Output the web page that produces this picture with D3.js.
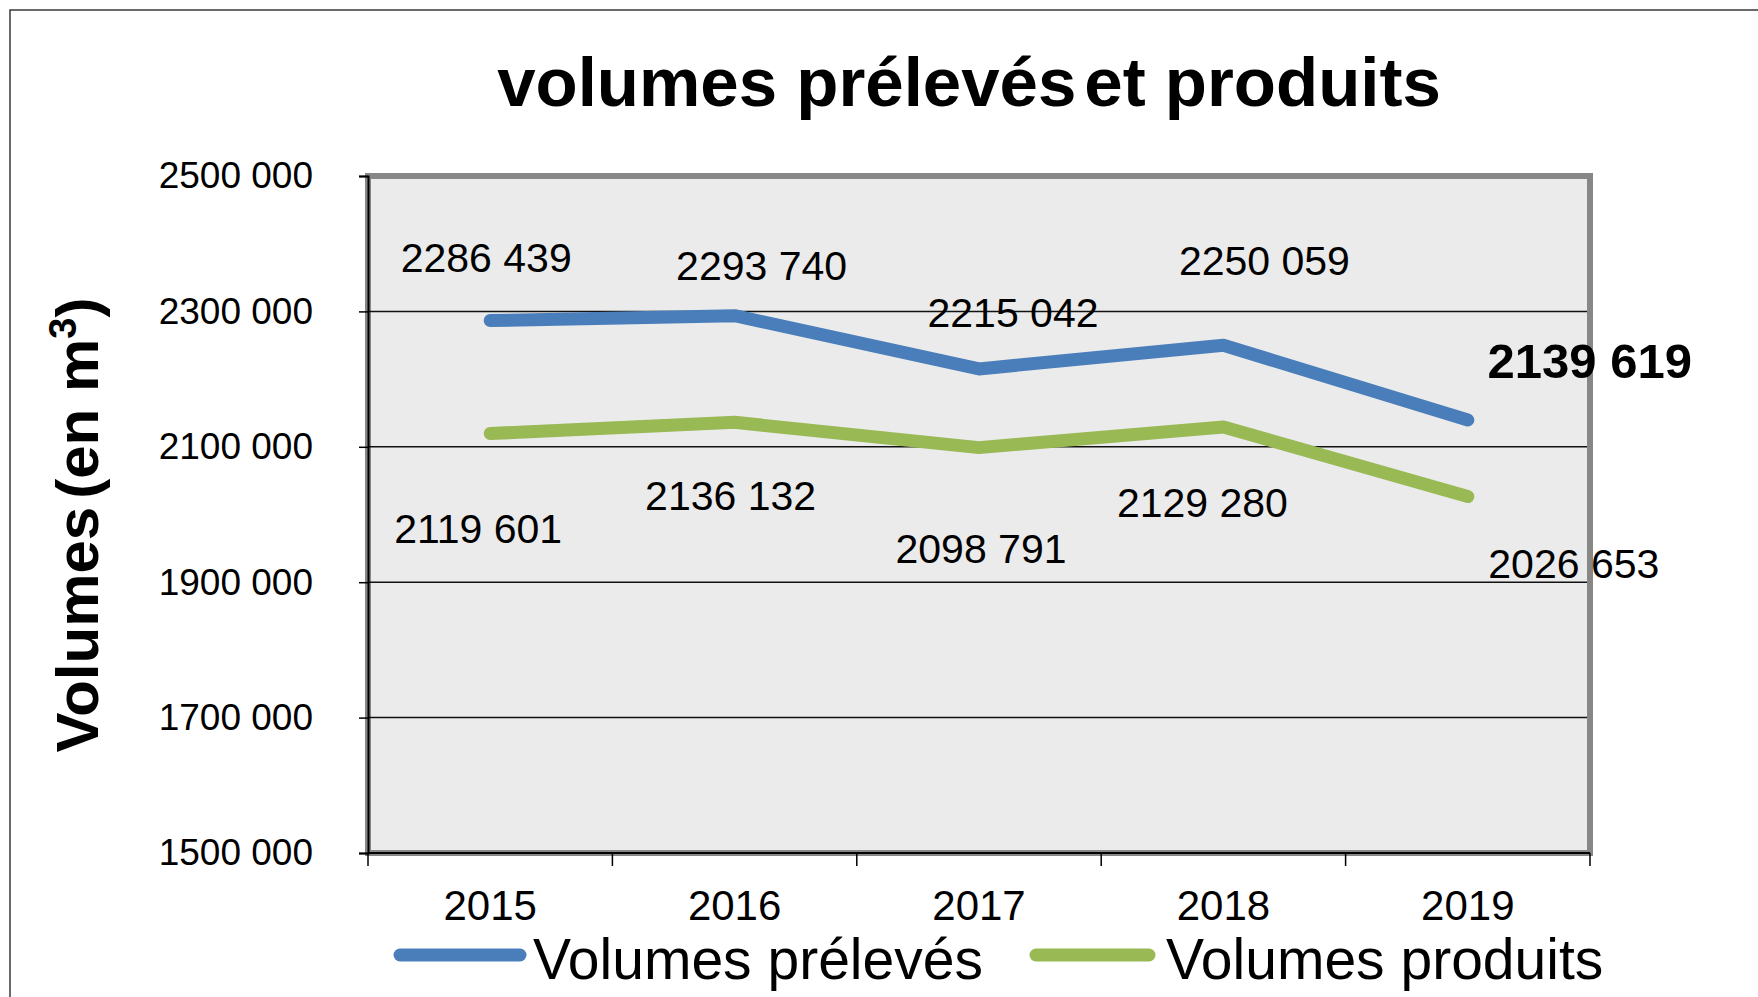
<!DOCTYPE html>
<html>
<head>
<meta charset="utf-8">
<script src="https://cdn.jsdelivr.net/npm/d3@7"></script>
<style>
  body { margin: 0; background: #fff; }
  text { font-family: "Liberation Sans", Arial, sans-serif; }
</style>
</head>
<body>
<div id="chart"></div>
<script>
// Data
const years = ["2015", "2016", "2017", "2018", "2019"];
const preleves = [2286439, 2293740, 2215042, 2250059, 2139619];
const produits = [2119601, 2136132, 2098791, 2129280, 2026653];
const yTicks = [1500000, 1700000, 1900000, 2100000, 2300000, 2500000];
const seriesNames = ["Volumes prélevés", "Volumes produits"];

// label offsets from the point (layout only)
const labelOffsetsPreleves = [[-4, -49], [27, -36], [34, -42], [41, -70], [122, -42]];
const labelOffsetsProduits = [[-12, 109], [-4, 88], [2, 115], [-21, 90], [106, 82]];

const width = 1758;
const height = 997;
const blue = "#4a7ebb";
const green = "#98b954";

const svg = d3.select("#chart")
  .append("svg")
  .attr("width", width)
  .attr("height", height);

// outer frame
svg.append("rect")
  .attr("x", 10).attr("y", 10)
  .attr("width", width + 20).attr("height", height + 20)
  .attr("fill", "none")
  .attr("stroke", "#3a3a3a")
  .attr("stroke-width", 1.5);

const plotLeft = 368, plotRight = 1590, plotTop = 176, plotBottom = 853;

// scales
const x = d3.scaleBand().domain(years).range([plotLeft, plotRight]).padding(0);
const y = d3.scaleLinear().domain([1500000, 2500000]).range([plotBottom, plotTop]);
const cx = d => x(d) + x.bandwidth() / 2;

const fmt = v => `${Math.floor(v / 1000)} ${String(v % 1000).padStart(3, "0")}`;

// plot area
svg.append("rect")
  .attr("x", plotLeft).attr("y", plotTop)
  .attr("width", plotRight - plotLeft).attr("height", plotBottom - plotTop)
  .attr("fill", "#ebebeb")
  .attr("stroke", "#878787")
  .attr("stroke-width", 6);

// gridlines
svg.append("g")
  .selectAll("line")
  .data(yTicks.slice(1, -1))
  .join("line")
  .attr("x1", plotLeft).attr("x2", plotRight - 3)
  .attr("y1", d => y(d)).attr("y2", d => y(d))
  .attr("stroke", "#111")
  .attr("stroke-width", 1.5);

// y axis
const yAxis = svg.append("g")
  .attr("transform", `translate(${plotLeft}, 0)`)
  .call(d3.axisLeft(y).tickValues(yTicks).tickFormat(fmt).tickSize(9).tickPadding(46));
yAxis.select(".domain").attr("stroke", "#000").attr("stroke-width", 2);
yAxis.selectAll(".tick line").attr("stroke", "#000").attr("stroke-width", 1.5);
yAxis.selectAll("text")
  .attr("font-size", 37)
  .attr("fill", "#000")
  .attr("font-family", "Liberation Sans, Arial, sans-serif");

// x axis
const xAxis = svg.append("g")
  .attr("transform", `translate(0, ${plotBottom})`)
  .call(d3.axisBottom(x).tickSize(0).tickPadding(37));
xAxis.select(".domain").remove();
xAxis.selectAll("text")
  .attr("font-size", 42)
  .attr("fill", "#000")
  .attr("font-family", "Liberation Sans, Arial, sans-serif");
svg.append("line")
  .attr("x1", plotLeft).attr("x2", plotRight)
  .attr("y1", plotBottom).attr("y2", plotBottom)
  .attr("stroke", "#000").attr("stroke-width", 2);
const edges = years.map(d => x(d)).concat([x(years[years.length - 1]) + x.bandwidth()]);
svg.append("g")
  .selectAll("line")
  .data(edges)
  .join("line")
  .attr("x1", d => d).attr("x2", d => d)
  .attr("y1", plotBottom).attr("y2", plotBottom + 13)
  .attr("stroke", "#000").attr("stroke-width", 1.5);

// lines
const line = d3.line()
  .x((d, i) => cx(years[i]))
  .y(d => y(d));

[[produits, green], [preleves, blue]].forEach(([vals, color]) => {
  svg.append("path")
    .datum(vals)
    .attr("d", line)
    .attr("fill", "none")
    .attr("stroke", color)
    .attr("stroke-width", 13)
    .attr("stroke-linecap", "round")
    .attr("stroke-linejoin", "round");
});

// data labels
svg.append("g")
  .selectAll("text")
  .data(preleves)
  .join("text")
  .attr("x", (d, i) => cx(years[i]) + labelOffsetsPreleves[i][0])
  .attr("y", (d, i) => y(d) + labelOffsetsPreleves[i][1])
  .attr("text-anchor", "middle")
  .attr("font-size", (d, i) => i === 4 ? 49 : 41)
  .attr("font-weight", (d, i) => i === 4 ? "bold" : "normal")
  .text(d => fmt(d));

svg.append("g")
  .selectAll("text")
  .data(produits)
  .join("text")
  .attr("x", (d, i) => cx(years[i]) + labelOffsetsProduits[i][0])
  .attr("y", (d, i) => y(d) + labelOffsetsProduits[i][1])
  .attr("text-anchor", "middle")
  .attr("font-size", 41)
  .text(d => fmt(d));

// title
const title = svg.append("text")
  .attr("x", 969)
  .attr("y", 106)
  .attr("text-anchor", "middle")
  .attr("font-size", 69)
  .attr("font-weight", "bold");
title.append("tspan").text("volumes prélevés");
title.append("tspan").attr("dx", 8).text("et produits");

// y label
const yl = svg.append("text")
  .attr("transform", "translate(98, 525) rotate(-90)")
  .attr("text-anchor", "middle")
  .attr("font-size", 60)
  .attr("font-weight", "bold");
yl.append("tspan").text("Volumes");
yl.append("tspan").attr("dx", 8).text("(en m");
yl.append("tspan").attr("font-size", 38).attr("dy", -22).text("3");
yl.append("tspan").attr("dy", 22).text(")");

// legend
const legend = [
  { name: seriesNames[0], color: blue, x1: 400, x2: 520, tx: 533 },
  { name: seriesNames[1], color: green, x1: 1036, x2: 1149, tx: 1166 }
];
legend.forEach(l => {
  svg.append("line")
    .attr("x1", l.x1).attr("x2", l.x2)
    .attr("y1", 955).attr("y2", 955)
    .attr("stroke", l.color)
    .attr("stroke-width", 13)
    .attr("stroke-linecap", "round");
  svg.append("text")
    .attr("x", l.tx)
    .attr("y", 979)
    .attr("font-size", 57)
    .text(l.name);
});
</script>
</body>
</html>
